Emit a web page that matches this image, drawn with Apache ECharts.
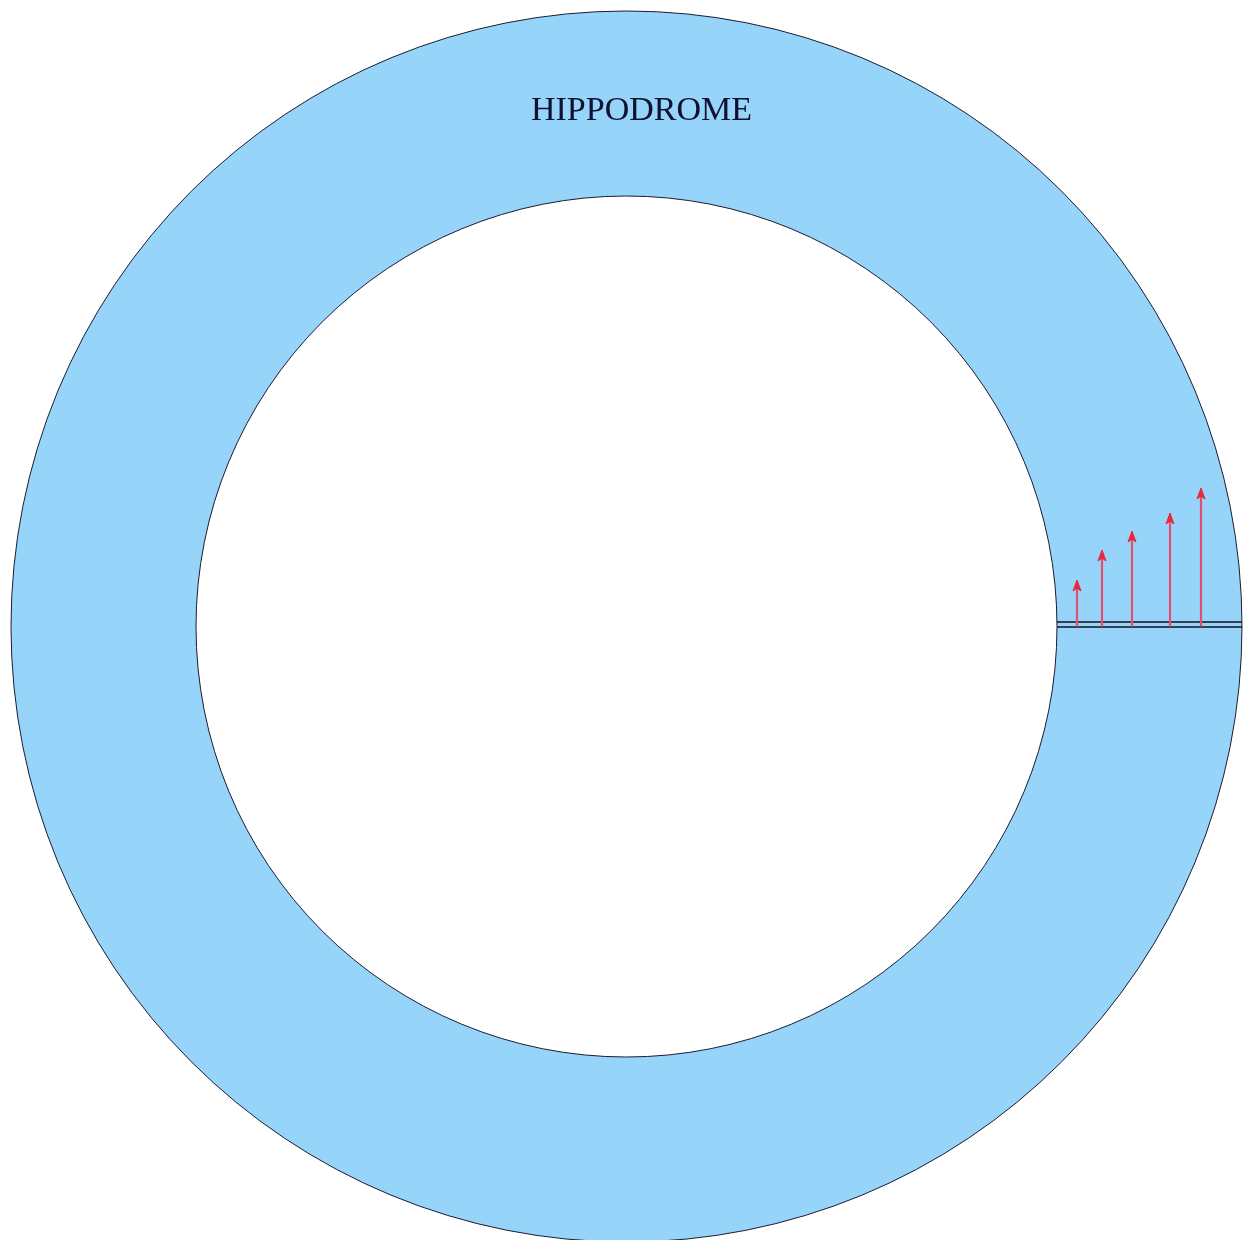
<!DOCTYPE html>
<html>
<head>
<meta charset="utf-8">
<script src="https://cdn.jsdelivr.net/npm/echarts@6/dist/echarts.min.js"></script>
<style>
html,body{margin:0;padding:0;background:#fff;}
#chart{width:1245px;height:1240px;}
</style>
</head>
<body>
<div id="chart"></div>
<script>
// Track geometry (units: track units, origin at track centre, y up)
const trackCentre = [0, 0];
const trackRadii = [430.5, 615.5];          // inner, outer
const startLineY = [4.5, -0.5];             // double start line
const arrowX = [450.5, 475.5, 505.5, 543.5, 574.5];
const arrowHeight = [46.5, 76.5, 95.5, 113.5, 138.5];
const trackLabel = 'HIPPODROME';
const labelPos = [15, 515];

const chart = echarts.init(document.getElementById('chart'));

const ringData = [[trackCentre[0], trackCentre[1], trackRadii[0], trackRadii[1]]];
const lineData = startLineY.map(y => [trackRadii[0], trackRadii[1], y]);
const arrowData = arrowX.map((x, i) => [x, arrowHeight[i]]);

chart.setOption({
  backgroundColor: '#ffffff',
  animation: false,
  grid: { left: 0, right: 0, top: 0, bottom: 0 },
  xAxis: { type: 'value', min: -626.5, max: 618.5, show: false },
  yAxis: { type: 'value', min: -613.5, max: 626.5, show: false },
  series: [
    {
      type: 'custom',
      data: ringData,
      renderItem: function (params, api) {
        const c = api.coord([api.value(0), api.value(1)]);
        const r0 = api.size([api.value(2), 0])[0];
        const r = api.size([api.value(3), 0])[0];
        return {
          type: 'sector',
          shape: { cx: c[0], cy: c[1], r0: r0, r: r, startAngle: 0, endAngle: Math.PI * 2 },
          style: { fill: '#96d4fa', stroke: '#1c1c30', lineWidth: 1 }
        };
      }
    },
    {
      type: 'custom',
      data: lineData,
      renderItem: function (params, api) {
        const a = api.coord([api.value(0), api.value(2)]);
        const b = api.coord([api.value(1), api.value(2)]);
        return {
          type: 'line',
          shape: { x1: a[0], y1: a[1], x2: b[0], y2: b[1] },
          style: { stroke: '#101020', lineWidth: 1.6 }
        };
      }
    },
    {
      type: 'custom',
      data: arrowData,
      z: 5,
      renderItem: function (params, api) {
        const base = api.coord([api.value(0), 0]);
        const tip = api.coord([api.value(0), api.value(1)]);
        return {
          type: 'group',
          children: [
            {
              type: 'line',
              shape: { x1: base[0], y1: base[1], x2: tip[0], y2: tip[1] + 4 },
              style: { stroke: '#e4506a', lineWidth: 2.2 }
            },
            {
              type: 'polygon',
              shape: { points: [[tip[0], tip[1]], [tip[0] + 4, tip[1] + 11], [tip[0], tip[1] + 8], [tip[0] - 4, tip[1] + 11]] },
              style: { fill: '#e8283c', stroke: '#e8283c', lineWidth: 1 }
            }
          ]
        };
      }
    },
    {
      type: 'custom',
      data: [[labelPos[0], labelPos[1]]],
      z: 6,
      renderItem: function (params, api) {
        const p = api.coord([api.value(0), api.value(1)]);
        return {
          type: 'text',
          x: p[0], y: p[1],
          style: {
            text: trackLabel,
            fill: '#101030',
            font: '34px "Liberation Serif", "DejaVu Serif", serif',
            align: 'center',
            verticalAlign: 'middle'
          }
        };
      }
    }
  ]
});
</script>
</body>
</html>
